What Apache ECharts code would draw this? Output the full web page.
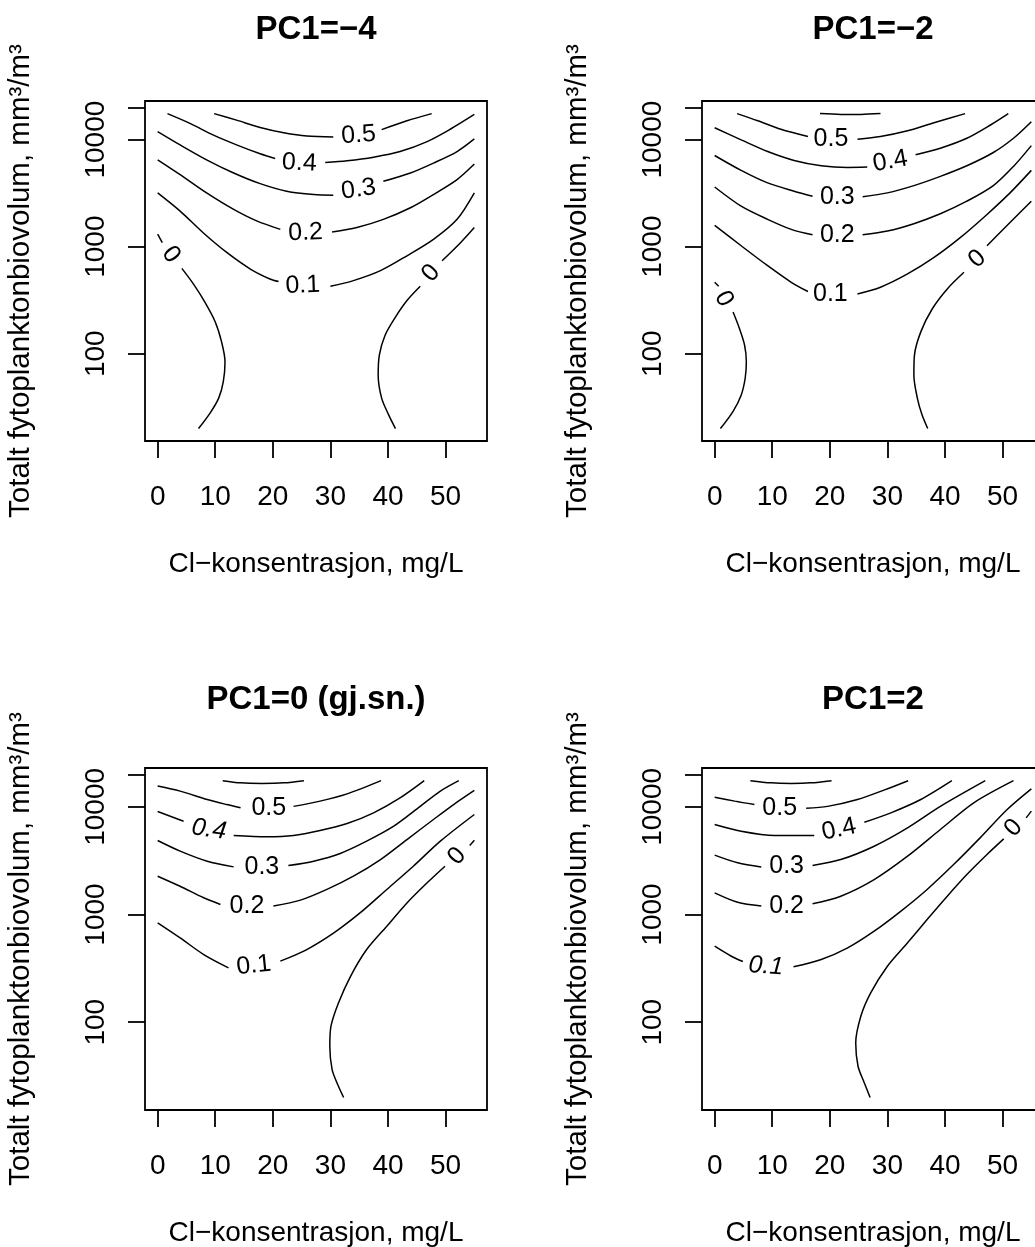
<!DOCTYPE html>
<html>
<head>
<meta charset="utf-8">
<script src="https://cdn.jsdelivr.net/npm/echarts@6/dist/echarts.min.js"></script>
<style>
  html, body { margin: 0; padding: 0; background: #fff; }
  #chart { width: 1035px; height: 1247px; }
</style>
</head>
<body>
<div id="chart"></div>
<script>
// Axis ticks and texts
const clTicks = [0, 10, 20, 30, 40, 50];
const volTicks = [100, 1000, 10000, 20000];
const volTickLabels = [100, 1000, 10000];
const clRange = [-2.2, 57.2];
const volRange = [15.3, 22950];
const panelTitles = ['PC1=−4', 'PC1=−2', 'PC1=0 (gj.sn.)', 'PC1=2'];
const xTitle = 'Cl−konsentrasjon, mg/L';
const yTitle = 'Totalt fytoplanktonbiovolum, mm³/m³';

// Contour lines: [Cl mg/L, biovolume mm³/m³]; each line is split where its label sits
const pcMinus4 = [
  { level: 0.5, parts: [
    [[9.8,17500],[13.7,15200],[17.8,13000],[21.9,11600],[25.9,10800],[30.5,10600]],
    [[38.9,12400],[43.3,15000],[47.6,17500]] ] },
  { level: 0.4, parts: [
    [[1.7,17500],[5.6,14200],[9.7,11000],[13.7,8930],[17.8,7370],[20.4,6670]],
    [[29.1,6120],[32.9,6350],[37.5,6860],[42.1,7740],[46.8,9590],[50.8,12500],[55,17200]] ] },
  { level: 0.3, parts: [
    [[0,11900],[3.9,8930],[8.5,6480],[13.2,4880],[17.8,3880],[22.4,3300],[27.1,3070],[30.5,3030]],
    [[39.2,4080],[43.9,4880],[47.9,6040],[52,7740],[55,10150]] ] },
  { level: 0.2, parts: [
    [[0,6480],[3.9,4710],[8.5,3180],[13.2,2230],[17.2,1740],[21.3,1450]],
    [[30.3,1370],[34.6,1510],[39.2,1800],[43.9,2310],[47.9,3070],[52,4230],[55,5910]] ] },
  { level: 0.1, parts: [
    [[0,3180],[3.9,2150],[7.9,1350],[12,883],[16.1,618],[19.5,499],[21,472]],
    [[30,427],[34,482],[38.7,597],[43.3,822],[47.9,1170],[52,1800],[55,3180]] ] },
  { level: 0, parts: [
    [[0,1310],[0.8,1090]],
    [[4.2,627],[6.2,449],[8.2,303],[10,198],[11.1,129],[11.7,84],[11.4,55],[10.6,38.5],[9.1,27.9],[7.1,20]] ] },
  { level: 0, parts: [
    [[55,1510],[52.6,1090],[49.4,739]],
    [[45.6,427],[43.3,314],[41.3,220],[39.5,149],[38.5,97],[38.3,63],[38.9,38.5],[40.1,27],[41.3,20]] ] }
];
const pcMinus4Labels = [
  { level: 0.5, at: [34.9, 11000] },
  { level: 0.4, at: [24.6, 6040] },
  { level: 0.3, at: [34.9, 3420] },
  { level: 0.2, at: [25.7, 1350] },
  { level: 0.1, at: [25.2, 433] },
  { level: 0, at: [2.3, 840] },
  { level: 0, at: [47.5, 564] }
];
const pcMinus4Tilt = [4, -3, 8, 2, 2, -53, 48];
const pcMinus4Italic = [false, false, false, false, false, false, false];

const pcMinus2 = [
  { level: 0.6, parts: [
    [[18.3,17500],[21.9,17190],[25.4,17190],[28.8,17500]] ] },
  { level: 0.5, parts: [
    [[3.9,17500],[7.5,15000],[11.5,12500],[16.2,10700]],
    [[24.8,10100],[28.8,10700],[33.5,12100],[38.1,14400],[43.5,17500]] ] },
  { level: 0.4, parts: [
    [[0,12900],[4.6,9940],[9.2,7740],[13.8,6390],[18.5,5700],[23.1,5500],[26.5,5540]],
    [[34.9,7220],[39.2,8320],[43.8,10300],[47.9,13700],[51,17500]] ] },
  { level: 0.3, parts: [
    [[0,7110],[4.6,5160],[9.2,3940],[13.8,3300],[17,2960]],
    [[25.7,2920],[30,3180],[34.6,3720],[39.2,4540],[43.8,5700],[48.4,7580],[51.9,10300],[55,14700]] ] },
  { level: 0.2, parts: [
    [[0,3610],[4.6,2390],[9.2,1800],[13.3,1450],[17,1290]],
    [[25.7,1290],[30,1400],[34.6,1640],[39.2,2030],[43.8,2660],[48.4,3720],[51.9,5620],[55,8790]] ] },
  { level: 0.1, parts: [
    [[0,1580],[4.6,1020],[9.2,664],[13.3,465],[16.2,381]],
    [[24.8,362],[28.8,418],[33.5,556],[38.1,793],[42.7,1220],[47.3,2000],[51.3,3180],[55,5160]] ] },
  { level: 0, parts: [
    [[55,2660],[51.3,1680],[47.3,1020]],
    [[43.3,576],[40.4,403],[37.8,263],[35.8,160],[34.7,97],[34.6,63],[35.2,38.5],[36,27],[37,20]] ] },
  { level: 0, parts: [
    [[0,465],[0.7,427]],
    [[3.2,245],[4.3,172],[5.2,120],[5.5,84],[5.3,59],[4.6,41],[3.2,29],[1,20]] ] }
];
const pcMinus2Labels = [
  { level: 0.5, at: [20.2, 10100] },
  { level: 0.4, at: [30.5, 6260] },
  { level: 0.3, at: [21.3, 2920] },
  { level: 0.2, at: [21.3, 1270] },
  { level: 0.1, at: [20.1, 362] },
  { level: 0, at: [45.6, 766] },
  { level: 0, at: [1.6, 326] }
];
const pcMinus2Tilt = [0, 10, 0, 0, 0, 42, -62];
const pcMinus2Italic = [false, false, false, false, false, false, false];

const pcZero = [
  { level: 0.6, parts: [
    [[11.3,17500],[14.4,16700],[18.1,16500],[21.9,16700],[25.4,17500]] ] },
  { level: 0.5, parts: [
    [[0,15600],[3.9,14000],[8.6,11700],[12,10500],[14.4,9790]],
    [[23.6,10100],[28.2,11300],[32.9,13200],[38.8,17500]] ] },
  { level: 0.4, parts: [
    [[0,9050],[4.5,7360]],
    [[13.2,5420],[19,5270],[23.6,5420],[28.2,6030],[32.9,7000],[37.5,8800],[42.1,12100],[46.3,17500]] ] },
  { level: 0.3, parts: [
    [[0,4870],[3.9,3880],[8.6,3130],[13.2,2770]],
    [[22.7,2850],[27.1,3130],[31.7,3690],[36.3,4800],[41,6610],[45.6,10100],[49.1,14000],[52.3,17500]] ] },
  { level: 0.2, parts: [
    [[0,2270],[3.9,1830],[8,1430],[10.9,1240]],
    [[20.1,1200],[24.8,1360],[29.4,1710],[34,2270],[38.7,3240],[43.3,4970],[47.9,7630],[51.4,10500],[55,14200]] ] },
  { level: 0.1, parts: [
    [[0,837],[3.9,607],[8,425],[12.3,320]],
    [[21.3,369],[25.9,473],[30.6,675],[35.2,1040],[39.8,1710],[44.4,2810],[49.1,4800],[55,8490]] ] },
  { level: 0, parts: [
    [[55,4900],[54.2,4380]],
    [[49.9,2810],[46.8,1970],[43.3,1280],[39.8,779],[36.3,473],[33.5,267],[31.4,151],[30.1,92],[29.9,60],[30.3,36.3],[31.4,25.4],[32.3,20]] ] }
];
const pcZeroLabels = [
  { level: 0.5, at: [19.3, 9790] },
  { level: 0.4, at: [8.9, 6160] },
  { level: 0.3, at: [18.1, 2770] },
  { level: 0.2, at: [15.5, 1200] },
  { level: 0.1, at: [16.7, 336] },
  { level: 0, at: [52, 3480] }
];
const pcZeroTilt = [0, -8, 0, 0, 6, 48];
const pcZeroItalic = [false, true, false, false, false, false];

const pcPlus2 = [
  { level: 0.6, parts: [
    [[6.2,17500],[9.8,16700],[13.3,16500],[16.7,16700],[20.3,17500]] ] },
  { level: 0.5, parts: [
    [[0,12300],[3.5,11300],[6.9,10500]],
    [[15.9,9720],[19.6,10100],[24.8,11700],[29.4,14300],[33.6,17500]] ] },
  { level: 0.4, parts: [
    [[0,6860],[4.6,5940],[10.4,5420],[17.3,5420]],
    [[26,7200],[30.6,8800],[35.8,11700],[41.2,17500]] ] },
  { level: 0.3, parts: [
    [[0,3560],[4,3020],[8.1,2770]],
    [[17,2850],[21.9,3240],[27.7,4310],[33.5,6380],[39.2,10100],[47,17500]] ] },
  { level: 0.2, parts: [
    [[0,1590],[4,1300],[8.1,1200]],
    [[17,1260],[21.9,1480],[27.7,2110],[33.5,3480],[39.2,6160],[45,10900],[51.9,17500]] ] },
  { level: 0.1, parts: [
    [[0,508],[2.9,410],[4.9,366]],
    [[13.7,327],[18.5,382],[23.1,490],[27.7,700],[32.3,1070],[36.9,1710],[41.5,2910],[46.1,5150],[50.8,9450],[55,14700]] ] },
  { level: 0, parts: [
    [[55,9120],[54.1,7900]],
    [[50.2,5040],[47.3,3610],[43.8,2350],[40.4,1480],[36.9,899],[33.5,546],[30,331],[27.1,187],[25.4,114],[24.5,64],[24.9,39],[26,27.3],[27,20]] ] }
];
const pcPlus2Labels = [
  { level: 0.5, at: [11.3, 9790] },
  { level: 0.4, at: [21.6, 6160] },
  { level: 0.3, at: [12.5, 2810] },
  { level: 0.2, at: [12.5, 1200] },
  { level: 0.1, at: [8.9, 331] },
  { level: 0, at: [51.9, 6380] }
];
const pcPlus2Tilt = [0, 12, 0, 0, -4, 48];
const pcPlus2Italic = [false, false, false, false, true, false];

const panels = [pcMinus4, pcMinus2, pcZero, pcPlus2];
const panelLabels = [pcMinus4Labels, pcMinus2Labels, pcZeroLabels, pcPlus2Labels];
const panelTilts = [pcMinus4Tilt, pcMinus2Tilt, pcZeroTilt, pcPlus2Tilt];
const panelItalic = [pcMinus4Italic, pcMinus2Italic, pcZeroItalic, pcPlus2Italic];

// Layout of the 2 x 2 panels (plot boxes in px); the right column runs past the page edge
const FONT = "'Liberation Sans', Arial, Helvetica, sans-serif";
const boxes = [
  { left: 145, top: 101, width: 342, height: 340 },
  { left: 702, top: 101, width: 342, height: 340 },
  { left: 145, top: 768, width: 342, height: 342 },
  { left: 702, top: 768, width: 342, height: 342 }
];
const titleTops = [13, 13, 683, 683];

const chart = echarts.init(document.getElementById('chart'), null, { renderer: 'canvas' });

const grid = boxes.map(b => ({
  left: b.left, top: b.top, width: b.width, height: b.height,
  show: true, borderColor: '#000', borderWidth: 1.8, backgroundColor: 'transparent',
  containLabel: false, outerBoundsMode: 'none'
}));

const axisText = { color: '#000', fontSize: 28, fontFamily: FONT };

const xAxis = boxes.map((b, i) => ({
  type: 'value', gridIndex: i, min: clRange[0], max: clRange[1],
  axisLine: { show: false, onZero: false },
  axisTick: { show: true, length: 17, customValues: clTicks, lineStyle: { color: '#000', width: 1.8 } },
  axisLabel: { show: true, customValues: clTicks, margin: 42, ...axisText },
  splitLine: { show: false },
  name: xTitle, nameLocation: 'middle', nameGap: 109,
  nameTextStyle: { ...axisText }
}));

const yAxis = boxes.map((b, i) => ({
  type: 'log', logBase: 10, gridIndex: i, min: volRange[0], max: volRange[1],
  axisLine: { show: false, onZero: false },
  axisTick: { show: true, length: 17, customValues: volTicks, lineStyle: { color: '#000', width: 1.8 } },
  axisLabel: { show: true, customValues: volTickLabels, rotate: 90, margin: 35,
    formatter: v => String(Math.round(v)), ...axisText },
  splitLine: { show: false },
  minorTick: { show: false }, minorSplitLine: { show: false },
  name: yTitle, nameLocation: 'middle', nameRotate: 90, nameGap: 109,
  nameTextStyle: { ...axisText, fontSize: 29.5, padding: [0, 20, 0, 0] }
}));

const series = [];
panels.forEach((lines, i) => {
  lines.forEach(c => {
    c.parts.forEach(part => {
      series.push({
        type: 'line', xAxisIndex: i, yAxisIndex: i,
        data: part, symbol: 'none', showSymbol: false, smooth: 0.3,
        silent: true, animation: false, z: 2,
        lineStyle: { color: '#000', width: 1.5 }
      });
    });
  });
  // Level labels placed in the gaps of the contour lines
  series.push({
    type: 'scatter', xAxisIndex: i, yAxisIndex: i, silent: true, animation: false, z: 3,
    symbolSize: 1, itemStyle: { color: 'rgba(0,0,0,0)', opacity: 1 },
    data: panelLabels[i].map((l, k) => ({
      name: String(l.level), value: l.at,
      label: { rotate: panelTilts[i][k], fontStyle: panelItalic[i][k] ? 'italic' : 'normal' }
    })),
    label: { show: true, position: 'inside', formatter: '{b}', fontSize: 25, color: '#000',
      textBorderWidth: 0, opacity: 1, fontFamily: FONT }
  });
});

chart.setOption({
  backgroundColor: '#fff',
  animation: false,
  title: panelTitles.map((t, i) => ({
    text: t, left: boxes[i].left + boxes[i].width / 2, top: titleTops[i],
    textAlign: 'center', padding: 0,
    textStyle: { color: '#000', fontSize: 33, fontWeight: 'bold', fontFamily: FONT }
  })),
  grid, xAxis, yAxis, series
});
</script>
</body>
</html>
